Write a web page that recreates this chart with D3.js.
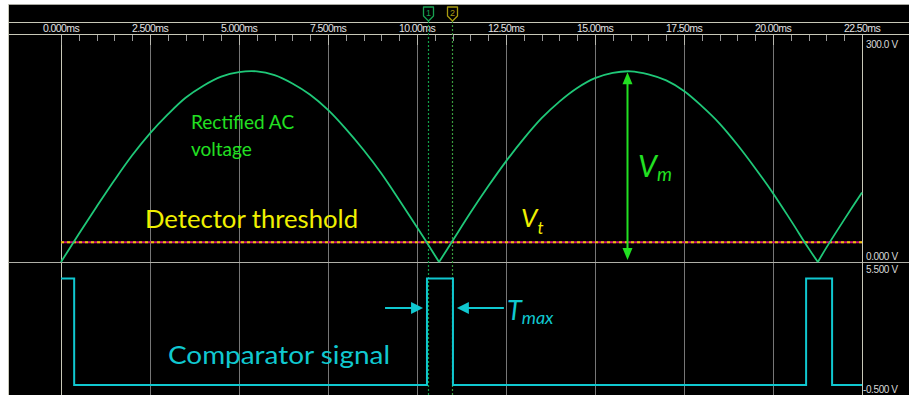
<!DOCTYPE html>
<html><head><meta charset="utf-8">
<script src="https://cdn.jsdelivr.net/npm/d3@7"></script>
<style>html,body{margin:0;padding:0;background:#fff;}svg{display:block;}</style>
</head><body>
<script>
// ---- data ----
const tickLabels = ["0.000ms","2.500ms","5.000ms","7.500ms","10.00ms","12.50ms","15.00ms","17.50ms","20.00ms","22.50ms"];
const tickTimes = [0,2.5,5,7.5,10,12.5,15,17.5,20,22.5];
const acTimes = [0,0.5,1,1.5,2,2.5,3,3.5,4,4.5,5,5.5,6,6.5,7,7.5,8,8.5,9,9.5,10,10.5,10.62,11,11.5,12,12.5,13,13.5,14,14.5,15,15.5,16,16.5,17,17.5,18,18.5,19,19.5,20,20.5,21,21.26,21.5,22,22.5];
const acVolts = [0,37,73,108,141,170,195,217,233,245,251,252,247,236,221,201,176,148,117,82,46,9,0,28,65,100,133,163,190,212,230,243,250,252,248,240,226,206,183,155,124,91,55,18,0,19,56,92];
const thresholdVolts = 26;
const compTimes = [0,0.37,10.28,11.01,20.93,21.66,22.5];
const compVolts = [4.8,0,4.8,0,4.8,0,0];
const cursorTimes = [10.31,10.98];
const cursorNames = ["1","2"];
const peakTime = 15.9, peakVolts = 252;
const upperAxisLabels = ["300.0 V","0.000 V"];
const lowerAxisLabels = ["5.500 V","-0.500 V"];

const W = 909, H = 395;
const svg = d3.select("body").append("svg").attr("width", W).attr("height", H);

// frame
svg.append("rect").attr("x",8).attr("y",4).attr("width",W-8).attr("height",H-4).attr("fill","#000");
const frame = "#c8c8b8";
svg.append("line").attr("x1",8).attr("x2",W).attr("y1",4.5).attr("y2",4.5).attr("stroke","#a8a8a0");
svg.append("line").attr("x1",8.5).attr("x2",8.5).attr("y1",4).attr("y2",H).attr("stroke",frame);
svg.append("line").attr("x1",8).attr("x2",W).attr("y1",22.5).attr("y2",22.5).attr("stroke",frame);
svg.append("line").attr("x1",8).attr("x2",W).attr("y1",34.5).attr("y2",34.5).attr("stroke",frame);

const x = d3.scaleLinear().domain([0,22.5]).range([61,862]);
const yU = d3.scaleLinear().domain([0,300]).range([262,35]);
const yL = d3.scaleLinear().domain([-0.5,5.5]).range([396,263]);

// grid lines (major)
svg.append("g").selectAll("line").data(tickTimes).join("line")
  .attr("x1",d=>Math.round(x(d))+0.5).attr("x2",d=>Math.round(x(d))+0.5)
  .attr("y1",35).attr("y2",H).attr("stroke",d=>d===0||d===22.5?frame:"#767676").attr("stroke-width",1);

// ruler minor ticks
const minor = d3.range(0,22.5,0.5).filter(t=>Math.abs(t/2.5-Math.round(t/2.5))>1e-6);
svg.append("g").selectAll("line").data(minor).join("line")
  .attr("x1",d=>Math.round(x(d))+0.5).attr("x2",d=>Math.round(x(d))+0.5)
  .attr("y1",35).attr("y2",41).attr("stroke","#9a9a9a");
svg.append("g").selectAll("line").data(tickTimes).join("line")
  .attr("x1",d=>Math.round(x(d))+0.5).attr("x2",d=>Math.round(x(d))+0.5)
  .attr("y1",35).attr("y2",45).attr("stroke","#b8b8b0");

// ruler labels
svg.append("g").selectAll("text").data(tickLabels).join("text")
  .attr("x",(d,i)=>x(tickTimes[i])).attr("y",32).attr("text-anchor","middle")
  .attr("font-family","Liberation Sans, Arial, sans-serif").attr("font-size",10.5)
  .attr("letter-spacing",-0.6).attr("fill","#e0e0e0").text(d=>d);

// separator & right border
svg.append("line").attr("x1",8).attr("x2",W).attr("y1",262.5).attr("y2",262.5).attr("stroke","#b0b0a8");
svg.append("line").attr("x1",862.5).attr("x2",862.5).attr("y1",34).attr("y2",H).attr("stroke",frame);

// right axis labels
const axFont = "Liberation Sans, Arial, sans-serif";
const axLab = svg.append("g").attr("font-family",axFont).attr("font-size",10).attr("letter-spacing",-0.4).attr("fill","#d8d8d8");
axLab.append("text").attr("x",866).attr("y",48).text(upperAxisLabels[0]);
axLab.append("text").attr("x",866).attr("y",260).text(upperAxisLabels[1]);
axLab.append("text").attr("x",866).attr("y",273).text(lowerAxisLabels[0]);
axLab.append("text").attr("x",863).attr("y",393).text(lowerAxisLabels[1]);

// cursors
const curColors = ["#18a050","#a89a10"];
cursorTimes.forEach((t,i)=>{
  const cx = Math.round(x(t))+0.5;
  svg.append("line").attr("x1",cx).attr("x2",cx).attr("y1",21).attr("y2",H)
    .attr("stroke",i===0?"#12a048":"#3a9a40").attr("stroke-width",1.2).attr("stroke-dasharray","2,2");
  const g = svg.append("g");
  g.append("path").attr("d",`M${cx-5},7 h10 v9 l-5,5 l-5,-5 z`).attr("fill","#000")
    .attr("stroke",curColors[i]).attr("stroke-width",1.3).attr("stroke-linejoin","round");
  g.append("text").attr("x",cx).attr("y",16).attr("text-anchor","middle")
    .attr("font-family",axFont).attr("font-size",9).attr("fill",curColors[i]).text(cursorNames[i]);
});

// threshold dashed line (magenta/yellow)
const tl = svg.append("g");
tl.append("line").attr("x1",x(0)).attr("x2",x(22.5)).attr("y1",yU(thresholdVolts)).attr("y2",yU(thresholdVolts))
  .attr("stroke","#c8107a").attr("stroke-width",2);
tl.append("line").attr("x1",x(0)).attr("x2",x(22.5)).attr("y1",yU(thresholdVolts)).attr("y2",yU(thresholdVolts))
  .attr("stroke","#e8c800").attr("stroke-width",2).attr("stroke-dasharray","3,3");

// AC waveform: each hump drawn separately so the minima stay sharp
const segs = [[0,22],[22,44],[44,acTimes.length-1]];
segs.forEach(([a,b])=>{
  const idx = d3.range(a,b+1);
  svg.append("path").datum(idx).attr("fill","none").attr("stroke","#1fc878").attr("stroke-width",1.8)
    .attr("d",d3.line().x(i=>x(acTimes[i])).y(i=>yU(acVolts[i])).curve(d3.curveCatmullRom));
});

// comparator
const cyan = "#10c8d0";
svg.append("path").datum(compVolts).attr("fill","none").attr("stroke",cyan).attr("stroke-width",2)
  .attr("d",d3.line().x((d,i)=>x(compTimes[i])).y(d=>yL(d)).curve(d3.curveStepAfter));

// Vm arrow
const green = "#22e022";
const ax = Math.round(x(peakTime))+0.5, ayTop = yU(peakVolts)+1, ayBot = yU(0)-2;
svg.append("line").attr("x1",ax).attr("x2",ax).attr("y1",ayTop+10).attr("y2",ayBot-10).attr("stroke",green).attr("stroke-width",2);
svg.append("path").attr("d",`M${ax},${ayTop} l-5,12 h10 z`).attr("fill",green);
svg.append("path").attr("d",`M${ax},${ayBot} l-5,-12 h10 z`).attr("fill",green);

// Tmax arrows
const ay = 308;
const lTip = x(cursorTimes[0])-5, rTip = x(cursorTimes[1])+5;
svg.append("line").attr("x1",lTip-38).attr("x2",lTip-10).attr("y1",ay).attr("y2",ay).attr("stroke",cyan).attr("stroke-width",2);
svg.append("path").attr("d",`M${lTip},${ay} l-12,-6 v12 z`).attr("fill",cyan);
svg.append("line").attr("x1",rTip+10).attr("x2",rTip+47).attr("y1",ay).attr("y2",ay).attr("stroke",cyan).attr("stroke-width",2);
svg.append("path").attr("d",`M${rTip},${ay} l12,-6 v12 z`).attr("fill",cyan);

// annotations
const aFont = "Lato, 'Open Sans', sans-serif";
svg.append("text").attr("x",191).attr("y",129).attr("font-family",aFont).attr("font-size",19).attr("fill",green).text("Rectified AC");
svg.append("text").attr("x",191).attr("y",156).attr("font-family",aFont).attr("font-size",19).attr("fill",green).text("voltage");
svg.append("text").attr("x",145).attr("y",228).attr("font-family",aFont).attr("font-size",25).attr("fill","#f0f000")
  .attr("textLength",213).attr("lengthAdjust","spacingAndGlyphs").text("Detector threshold");
const vt = svg.append("text").attr("x",521).attr("y",227).attr("font-family",aFont).attr("font-size",26).attr("font-style","italic").attr("fill","#f0f000");
vt.append("tspan").text("V");
vt.append("tspan").attr("dy",7).attr("font-size",17).text("t");
const vm = svg.append("text").attr("x",638).attr("y",177).attr("font-family",aFont).attr("font-size",30).attr("font-style","italic").attr("fill",green);
vm.append("tspan").text("V");
vm.append("tspan").attr("dy",4).attr("font-size",19).text("m");
svg.append("text").attr("x",168).attr("y",364).attr("font-family",aFont).attr("font-size",25).attr("fill",cyan)
  .attr("textLength",222).attr("lengthAdjust","spacingAndGlyphs").text("Comparator signal");
const tm = svg.append("text").attr("x",507).attr("y",320).attr("font-family",aFont).attr("font-size",27).attr("font-style","italic").attr("fill",cyan);
tm.append("tspan").text("T");
tm.append("tspan").attr("dy",4).attr("font-size",18).text("max");
</script>
</body></html>
